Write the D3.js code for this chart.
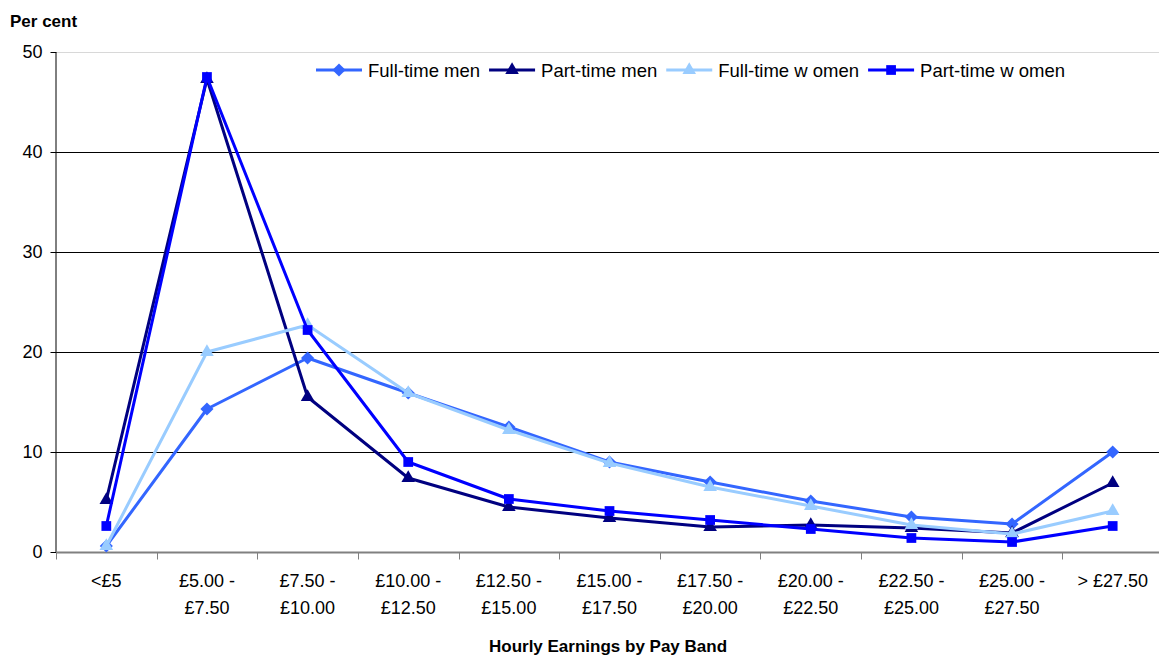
<!DOCTYPE html>
<html>
<head>
<meta charset="utf-8">
<style>
  body { margin: 0; background: #fff; }
  svg text { font-family: "Liberation Sans", Arial, sans-serif; }
</style>
<script src="https://d3js.org/d3.v7.min.js"></script>
</head>
<body>
<svg width="1159" height="657"></svg>
<script>

// pay bands (two text lines each)
var bands = [["<£5"], ["£5.00 -", "£7.50"], ["£7.50 -", "£10.00"], ["£10.00 -", "£12.50"],
  ["£12.50 -", "£15.00"], ["£15.00 -", "£17.50"], ["£17.50 -", "£20.00"], ["£20.00 -", "£22.50"],
  ["£22.50 -", "£25.00"], ["£25.00 -", "£27.50"], ["> £27.50"]];

var fullTimeMen    = [0.6, 14.3, 19.4, 15.9, 12.5, 9.0, 7.0, 5.1, 3.5, 2.8, 10.0];
var partTimeMen    = [5.2, 47.3, 15.5, 7.4, 4.5, 3.4, 2.5, 2.7, 2.4, 1.9, 6.9];
var fullTimeWomen  = [0.6, 20.0, 22.7, 15.9, 12.2, 8.9, 6.5, 4.6, 2.7, 1.8, 4.1];
var partTimeWomen  = [2.6, 47.5, 22.2, 9.0, 5.3, 4.1, 3.2, 2.3, 1.4, 1.0, 2.6];

var yTicks = [0, 10, 20, 30, 40, 50];

var series = [
  {name: "Full-time men",    values: fullTimeMen,   color: "#3366FF", symbol: d3.symbolDiamond2, size: 110},
  {name: "Part-time men",    values: partTimeMen,   color: "#000080", symbol: d3.symbolTriangle, size: 80},
  {name: "Full-time w omen", values: fullTimeWomen, color: "#99CCFF", symbol: d3.symbolTriangle, size: 80},
  {name: "Part-time w omen", values: partTimeWomen, color: "#0000FF", symbol: d3.symbolSquare,   size: 95}
];

var svg = d3.select("svg");

var x = d3.scaleBand()
  .domain(d3.range(bands.length))
  .range([56, 1163]);

var y = d3.scaleLinear()
  .domain([0, 50])
  .range([552, 52]);

// gridlines
svg.append("g")
  .selectAll("line")
  .data(yTicks.slice(1))
  .enter().append("line")
  .attr("x1", 56).attr("x2", 1159)
  .attr("y1", function(d) { return y(d) + 0.5; })
  .attr("y2", function(d) { return y(d) + 0.5; })
  .attr("stroke", function(d) { return d == 50 ? "#d8d8d8" : "#000"; })
  .attr("stroke-width", 1);

// y axis
var yAxis = svg.append("g")
  .attr("transform", "translate(56.5,0)")
  .call(d3.axisLeft(y).tickValues(yTicks).tickSize(6).tickPadding(8));
yAxis.select(".domain").attr("stroke", "#000").attr("d", "M-0.5,52.5V552.5");
yAxis.selectAll("text").attr("font-size", 18).attr("fill", "#000")
  .style("font-family", "'Liberation Sans', Arial, sans-serif");

// x axis
var xAxis = svg.append("g")
  .attr("transform", "translate(0,552.5)");
xAxis.append("line")
  .attr("x1", 56).attr("x2", 1159)
  .attr("stroke", "#808080").attr("stroke-width", 2);
xAxis.selectAll(".tk")
  .data(d3.range(bands.length))
  .enter().append("line")
  .attr("class", "tk")
  .attr("x1", function(d) { return Math.round(x(d)) + 0.5; })
  .attr("x2", function(d) { return Math.round(x(d)) + 0.5; })
  .attr("y1", 0).attr("y2", 7)
  .attr("stroke", "#808080");

var labels = xAxis.selectAll(".lbl")
  .data(bands)
  .enter().append("text")
  .attr("class", "lbl")
  .attr("text-anchor", "middle")
  .attr("font-size", 18)
  .attr("fill", "#000")
  .attr("transform", function(d, i) { return "translate(" + (x(i) + x.bandwidth() / 2) + ",34)"; });
labels.selectAll("tspan")
  .data(function(d) { return d; })
  .enter().append("tspan")
  .attr("x", 0)
  .attr("dy", function(d, i) { return i == 0 ? 0 : 27; })
  .text(function(d) { return d; });

// titles
svg.append("text")
  .attr("x", 10).attr("y", 27)
  .attr("font-size", 17).attr("font-weight", "bold")
  .text("Per cent");

svg.append("text")
  .attr("x", 608).attr("y", 652)
  .attr("text-anchor", "middle")
  .attr("font-size", 17).attr("font-weight", "bold")
  .text("Hourly Earnings by Pay Band");

// lines
var line = d3.line()
  .x(function(d, i) { return x(i) + x.bandwidth() / 2; })
  .y(function(d) { return y(d); });

series.forEach(function(s) {
  var g = svg.append("g");
  g.append("path")
    .attr("d", line(s.values))
    .attr("fill", "none")
    .attr("stroke", s.color)
    .attr("stroke-width", 3)
    .attr("stroke-linejoin", "round");
  g.selectAll("path.m")
    .data(s.values)
    .enter().append("path")
    .attr("class", "m")
    .attr("transform", function(d, i) { return "translate(" + (x(i) + x.bandwidth() / 2) + "," + y(d) + ")"; })
    .attr("d", d3.symbol().type(s.symbol).size(s.size))
    .attr("fill", s.color);
});

// legend
var legend = svg.append("g").attr("transform", "translate(316,70)");
var lx = 0;
series.forEach(function(s) {
  var item = legend.append("g").attr("transform", "translate(" + lx + ",0)");
  item.append("line")
    .attr("x1", 0).attr("x2", 46)
    .attr("stroke", s.color).attr("stroke-width", 3);
  item.append("path")
    .attr("transform", "translate(23,0)")
    .attr("d", d3.symbol().type(s.symbol).size(s.size))
    .attr("fill", s.color);
  var t = item.append("text")
    .attr("x", 52).attr("y", 6.5)
    .attr("font-size", 18.5)
    .text(s.name);
  lx += 52 + t.node().getComputedTextLength() + 9;
});

</script>
</body>
</html>
